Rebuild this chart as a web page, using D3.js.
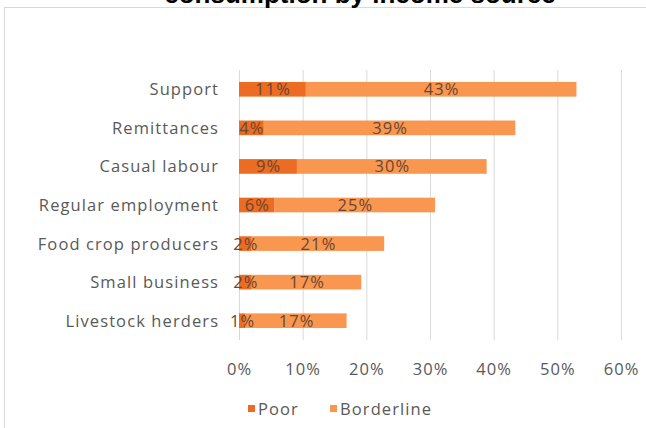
<!DOCTYPE html>
<html><head><meta charset="utf-8">
<script src="https://cdn.jsdelivr.net/npm/d3@7"></script>
<style>body{margin:0;background:#fff;}svg{display:block;}</style>
</head><body><svg id="c" width="646" height="428"></svg>
<script>
const categories = ["Support","Remittances","Casual labour","Regular employment","Food crop producers","Small business","Livestock herders"];
const poor = [10.5, 3.9, 9.1, 5.6, 2.0, 2.0, 1.0];
const borderline = [42.5, 39.5, 29.8, 25.2, 20.8, 17.2, 15.9];
const poorLabels = ["11%","4%","9%","6%","2%","2%","1%"];
const borderlineLabels = ["43%","39%","30%","25%","21%","17%","17%"];
const ticks = [0,10,20,30,40,50,60];
const seriesNames = ["Poor","Borderline"];
const titleText = "consumption by income source";

const svg = d3.select("#c");
const font = "'Open Sans', sans-serif";
const txt = "#595959";
const colors = ["#EB6C22","#F9964F"];
const ls = 1.1;
const fs = 16.5;

svg.append("rect").attr("x",4.5).attr("y",7.5).attr("width",660).attr("height",440)
  .attr("fill","none").attr("stroke","#d9d9d9");

svg.append("text").attr("x",360).attr("y",2.5).attr("text-anchor","middle")
  .attr("font-family","'Liberation Sans', Arial, sans-serif").attr("font-weight","bold")
  .attr("font-size",26).attr("fill","#000").text(titleText);

const x = d3.scaleLinear().domain([0,60]).range([239,621]);
const y = d3.scaleBand().domain(categories).range([70,340]).paddingInner(0.62).paddingOuter(0.31);

svg.append("g").selectAll("line").data(ticks).join("line")
  .attr("x1",d=>x(d)+0.5).attr("x2",d=>x(d)+0.5).attr("y1",70).attr("y2",340)
  .attr("stroke","#d9d9d9").attr("stroke-width",1);

const rows = categories.map((c,i)=>({c, p:poor[i], b:borderline[i], pl:poorLabels[i], bl:borderlineLabels[i]}));

svg.append("g").selectAll("rect").data(rows).join("rect")
  .attr("x",d=>x(0)).attr("y",d=>y(d.c)).attr("width",d=>x(d.p)-x(0)).attr("height",y.bandwidth())
  .attr("fill",colors[0]);
svg.append("g").selectAll("rect").data(rows).join("rect")
  .attr("x",d=>x(d.p)).attr("y",d=>y(d.c)).attr("width",d=>x(d.p+d.b)-x(d.p)).attr("height",y.bandwidth())
  .attr("fill",colors[1]);

const lbl = svg.append("g").attr("font-family",font).attr("font-size",fs).attr("letter-spacing",ls)
  .attr("fill","#6b4630").attr("text-anchor","middle");
lbl.selectAll("text.p").data(rows).join("text").attr("class","p")
  .attr("x",d=>x(d.p/2)+ls/2).attr("y",d=>y(d.c)+y.bandwidth()/2).attr("dy","0.36em").text(d=>d.pl);
lbl.selectAll("text.b").data(rows).join("text").attr("class","b")
  .attr("x",d=>x(d.p+d.b/2)+ls/2).attr("y",d=>y(d.c)+y.bandwidth()/2).attr("dy","0.36em").text(d=>d.bl);

svg.append("g").selectAll("text").data(categories).join("text")
  .attr("x",218+ls).attr("y",d=>y(d)+y.bandwidth()/2).attr("dy","0.36em").attr("text-anchor","end")
  .attr("font-family",font).attr("font-size",fs).attr("letter-spacing",ls).attr("fill",txt).text(d=>d);

svg.append("g").selectAll("text").data(ticks).join("text")
  .attr("x",d=>x(d)+ls/2).attr("y",369).attr("dy","0.36em").attr("text-anchor","middle")
  .attr("font-family",font).attr("font-size",fs).attr("letter-spacing",ls).attr("fill",txt).text(d=>d+"%");

const leg = svg.append("g");
const legX = [248, 330];
seriesNames.forEach((s,i)=>{
  leg.append("rect").attr("x",legX[i]).attr("y",405).attr("width",7).attr("height",7).attr("fill",colors[i]);
  leg.append("text").attr("x",legX[i]+10).attr("y",409).attr("dy","0.36em")
    .attr("font-family",font).attr("font-size",fs).attr("letter-spacing",ls).attr("fill",txt).text(s);
});
</script></body></html>
